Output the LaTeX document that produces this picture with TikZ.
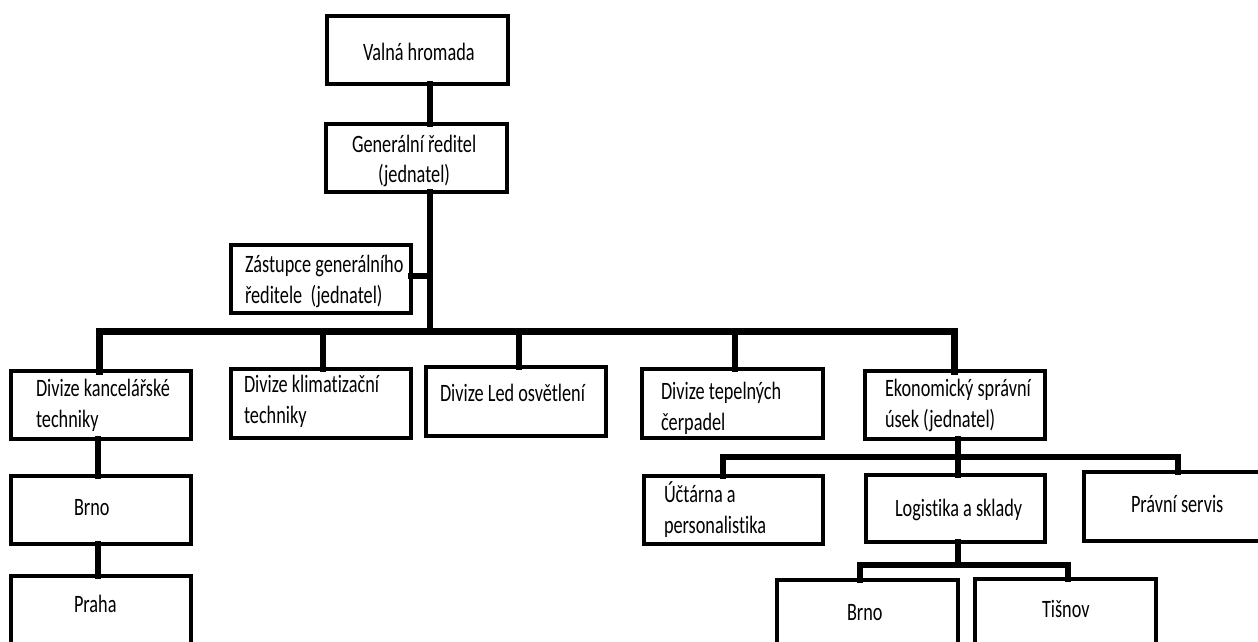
\documentclass[tikz,border=0pt]{standalone}
\usepackage{fontspec}
\setmainfont[FakeStretch=0.73,RawFeature={-liga;-clig;-dlig}]{Carlito}
\begin{document}
\begin{tikzpicture}[x=1pt,y=-1pt,
  box/.style={draw=black,line width=4pt,inner sep=0pt,outer sep=0pt,
    minimum width=180pt,minimum height=68pt,fill=white},
  conn/.style={draw=black,line width=6pt,line join=miter,line cap=rect},
  bus/.style={conn,line width=7pt},
  txt/.style={anchor=base west,inner sep=0pt,outer sep=0pt,
    font=\fontsize{25}{31}\selectfont}]
\useasboundingbox (0,0) rectangle (1258,642);
\clip (0,0) rectangle (1258,642);

% vertical trunk and horizontal levels
\coordinate (trunk) at (430,0);
\coordinate (busY) at (0,331);
\coordinate (ekoY) at (0,457);
\coordinate (logY) at (0,565);

% drop points from the main bus
\coordinate (d1top) at (99,371);
\coordinate (d2top) at (323,369);
\coordinate (d3top) at (519,367);
\coordinate (d4top) at (735,369);
\coordinate (ekotop) at (954,371);

% boxes
\node[box,minimum width=181pt] (vh) at (417.5,50) {};
\node[box,minimum width=181pt] (gr) at (416.5,158) {};
\node[box] (zr) at (321,279) {};
\node[box] (d1) at (101,405) {};
\node[box] (brnoL) at (101,510) {};
\node[box] (praha) at (101,610) {};
\node[box,minimum height=69pt] (d2) at (321,403.5) {};
\node[box,minimum height=69pt] (d3) at (516,401.5) {};
\node[box,minimum width=181pt,minimum height=69pt] (d4) at (732.5,403.5) {};
\node[box] (eko) at (955,405) {};
\node[box,minimum width=179pt] (uct) at (733.5,510) {};
\node[box,minimum width=179pt,minimum height=67pt] (log) at (955.5,508.5) {};
\node[box,minimum width=216pt,minimum height=69pt] (prav) at (1192,506.5) {};
\node[box,minimum width=181pt] (brnoR) at (867.5,614) {};
\node[box,minimum width=181pt] (tis) at (1065.5,613) {};

% tree lines
\draw[conn] (vh.south -| trunk) -- (gr.north -| trunk);
\draw[conn] (gr.south -| trunk) -- (trunk |- busY);
\draw[conn] (zr.east |- 0,276) -- (trunk |- 0,276);
\draw[bus] (d1.north -| d1top) -- (d1top |- busY) -- (ekotop |- busY) -- (eko.north -| ekotop);
\draw[conn] (d2top |- busY) -- (d2.north -| d2top);
\draw[conn] (d3top |- busY) -- (d3.north -| d3top);
\draw[conn] (d4top |- busY) -- (d4.north -| d4top);
\draw[conn] (d1.south -| 98,0) -- (brnoL.north -| 98,0);
\draw[conn] (brnoL.south -| 98,0) -- (praha.north -| 98,0);
\draw[conn] (eko.south -| 958,0) -- (958,0 |- ekoY);
\draw[conn] (uct.north -| 723,0) -- (723,0 |- ekoY) -- (1178,0 |- ekoY) -- (prav.north -| 1178,0);
\draw[conn] (958,0 |- ekoY) -- (log.north -| 958,0);
\draw[conn] (log.south -| 958,0) -- (958,0 |- logY);
\draw[conn] (brnoR.north -| 860,0) -- (860,0 |- logY) -- (1068,0 |- logY) -- (tis.north -| 1068,0);

% labels
\node[txt] (t-vh) at (363,60) {Valná hromada};
\node[txt] (t-gr1) at (352,152) {Generální ředitel};
\node[txt] (t-gr2) at (378,182) {(jednatel)};
\node[txt] (t-zr1) at (245,272) {Zástupce generálního};
\node[txt] (t-zr2) at (245,303) {ředitele \ (jednatel)};
\node[txt] (t-d11) at (36,396) {Divize kancelářské};
\node[txt] (t-d12) at (36,427) {techniky};
\node[txt] (t-d21) at (244,392) {Divize klimatizační};
\node[txt] (t-d22) at (244,423) {techniky};
\node[txt] (t-d3) at (440,401) {Divize Led osvětlení};
\node[txt] (t-brnoL) at (74,515) {Brno};
\node[txt] (t-praha) at (74,612) {Praha};
\node[txt] (t-d41) at (661,399) {Divize tepelných};
\node[txt] (t-d42) at (661,430) {čerpadel};
\node[txt] (t-eko1) at (885,396) {Ekonomický správní};
\node[txt] (t-eko2) at (885,427) {úsek (jednatel)};
\node[txt] (t-uct1) at (664,502) {Účtárna a};
\node[txt] (t-uct2) at (664,533) {personalistika};
\node[txt] (t-log) at (895,516) {Logistika a sklady};
\node[txt] (t-prav) at (1131,512) {Právní servis};
\node[txt] (t-brnoR) at (847,620) {Brno};
\node[txt] (t-tis) at (1042,617) {Tišnov};
\end{tikzpicture}
\end{document}
